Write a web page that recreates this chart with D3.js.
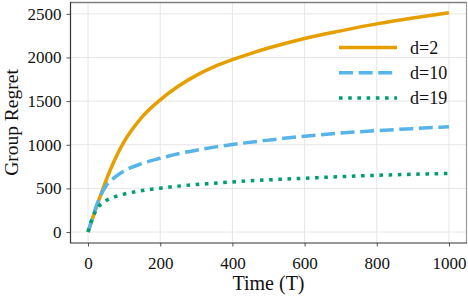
<!DOCTYPE html>
<html>
<head>
    <title>Group Regret over Time</title>
    <script src="https://d3js.org/d3.v7.min.js"></script>
    <style>
        body { margin: 0; background: #fff; }
        svg text { font-family: "Liberation Serif", "Times New Roman", serif; fill: #111; }
        .grid line { stroke: #e6e6e6; stroke-width: 1; }
        .axis-label { font-size: 20px; }
        .legend-label { font-size: 18px; }
    </style>
</head>
<body>
<div id="chart"></div>
<script>
// Time steps (T) and cumulative group regret
const times = [0, 10, 25, 50, 75, 100, 150, 200, 250, 300, 350, 400, 450, 500, 600, 700, 800, 900, 1000];
const regretD2  = [0, 125, 308, 593, 838, 1035, 1320, 1515, 1670, 1795, 1895, 1975, 2045, 2108, 2218, 2305, 2385, 2452, 2512];
const regretD10 = [0, 130, 320, 530, 630, 700, 785, 845, 897, 938, 973, 1003, 1029, 1053, 1098, 1134, 1162, 1185, 1205];
const regretD19 = [0, 140, 265, 360, 405, 435, 475, 503, 526, 544, 559, 574, 587, 598, 617, 635, 650, 662, 672];
const seriesNames = ["d=2", "d=10", "d=19"];
const xTicks = [0, 200, 400, 600, 800, 1000];
const yTicks = [0, 500, 1000, 1500, 2000, 2500];

const W = 468, H = 296;
const margin = {top: 2, right: 1, bottom: 53, left: 70},
      width = W - margin.left - margin.right,
      height = H - margin.top - margin.bottom;

const svg = d3.select("#chart").append("svg")
    .attr("width", W)
    .attr("height", H);
const g = svg.append("g")
    .attr("transform", `translate(${margin.left},${margin.top})`);

// scales include matplotlib's 5% padding
const x = d3.scaleLinear().domain([-50, 1050]).range([0, width]);
const y = d3.scaleLinear().domain([-125.5, 2635.5]).range([height, 0]);

// grid
const grid = g.append("g").attr("class", "grid");
grid.selectAll(".gx").data(xTicks).enter().append("line")
    .attr("x1", d => x(d)).attr("x2", d => x(d))
    .attr("y1", 0).attr("y2", height);
grid.selectAll(".gy").data(yTicks).enter().append("line")
    .attr("x1", 0).attr("x2", width)
    .attr("y1", d => y(d)).attr("y2", d => y(d));

// axes
const xAxis = g.append("g")
    .attr("transform", `translate(0,${height})`)
    .call(d3.axisBottom(x).tickValues(xTicks).tickSize(3.5).tickPadding(6).tickFormat(d3.format("d")));
const yAxis = g.append("g")
    .call(d3.axisLeft(y).tickValues(yTicks).tickSize(3.5).tickPadding(5).tickFormat(d3.format("d")));
[xAxis, yAxis].forEach(a => {
    a.attr("font-family", "Liberation Serif, serif").attr("font-size", 17);
    a.select(".domain").remove();
    a.selectAll(".tick line").attr("stroke", "#555");
    a.selectAll(".tick text").attr("fill", "#111");
});
xAxis.selectAll(".tick text").attr("dy", "0.95em");

// spines
g.append("line").attr("x1", 0).attr("x2", width).attr("y1", 0.5).attr("y2", 0.5)
    .attr("stroke", "#808080").attr("stroke-width", 1.4);
g.append("line").attr("x1", width - 0.5).attr("x2", width - 0.5).attr("y1", 0).attr("y2", height)
    .attr("stroke", "#9a9a9a").attr("stroke-width", 1.2);
g.append("line").attr("x1", 0.5).attr("x2", 0.5).attr("y1", 0).attr("y2", height)
    .attr("stroke", "#333").attr("stroke-width", 1.2);
g.append("line").attr("x1", 0).attr("x2", width).attr("y1", height).attr("y2", height)
    .attr("stroke", "#333").attr("stroke-width", 1.2);

// series
const series = [
    {name: seriesNames[0], values: regretD2,  color: "#E69F00", dash: null},
    {name: seriesNames[1], values: regretD10, color: "#56B4E9", dash: "14,5.6"},
    {name: seriesNames[2], values: regretD19, color: "#009E73", dash: "3.6,5.6"}
];

const line = d3.line()
    .x((d, i) => x(times[i]))
    .y(d => y(d))
    .curve(d3.curveMonotoneX);

series.forEach(s => {
    g.append("path")
        .datum(s.values)
        .attr("fill", "none")
        .attr("stroke", s.color)
        .attr("stroke-width", 3.5)
        .attr("stroke-dasharray", s.dash)
        .attr("d", line);
});

// legend
const legend = svg.append("g");
series.forEach((s, i) => {
    const ly = 47.5 + i * 25.3;
    legend.append("line")
        .attr("x1", 339).attr("x2", 397)
        .attr("y1", ly).attr("y2", ly)
        .attr("stroke", s.color)
        .attr("stroke-width", 3.5)
        .attr("stroke-dasharray", s.dash);
    legend.append("text")
        .attr("class", "legend-label")
        .attr("x", 410).attr("y", ly + 6)
        .text(s.name);
});

// axis titles
svg.append("text")
    .attr("class", "axis-label")
    .attr("x", margin.left + x(500))
    .attr("y", 290)
    .attr("text-anchor", "middle")
    .text("Time (T)");
svg.append("text")
    .attr("class", "axis-label")
    .style("font-size", "19.5px")
    .attr("transform", `translate(18,${margin.top + height / 2}) rotate(-90)`)
    .attr("text-anchor", "middle")
    .text("Group Regret");
</script>
</body>
</html>
